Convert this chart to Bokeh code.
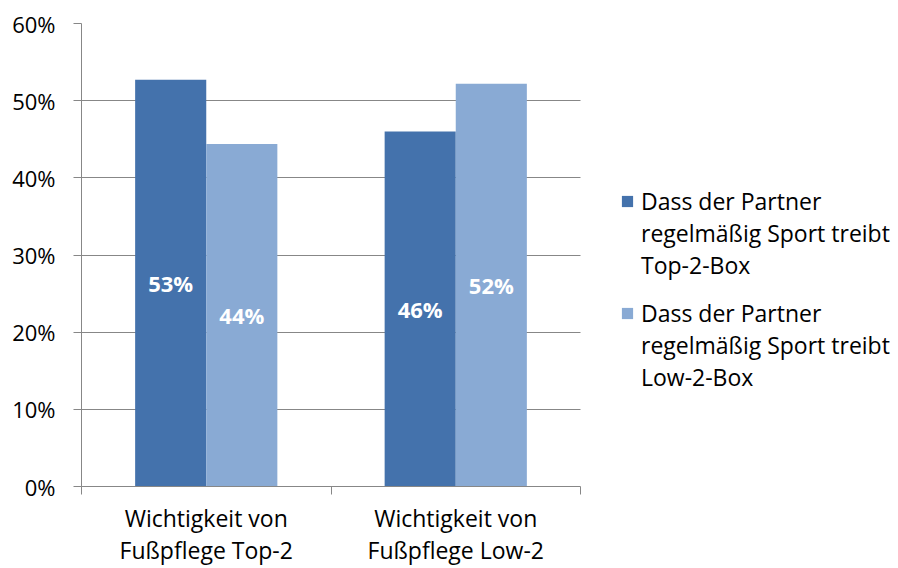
from bokeh.plotting import figure
from bokeh.models import (ColumnDataSource, FixedTicker, NumeralTickFormatter,
                          Legend, LegendItem, Range1d, Grid)
from bokeh.core.properties import value
from bokeh.embed import file_html
from bokeh.resources import INLINE

# ---- data ----
categories = ["Wichtigkeit von\nFußpflege Top-2", "Wichtigkeit von\nFußpflege Low-2"]
series_names = ["Dass der Partner\nregelmäßig Sport treibt\nTop-2-Box",
                "Dass der Partner\nregelmäßig Sport treibt\nLow-2-Box"]
top2_values = [0.527, 0.460]
low2_values = [0.444, 0.522]
y_ticks = [0.0, 0.1, 0.2, 0.3, 0.4, 0.5, 0.6]
colors = ["#4472AC", "#89AAD4"]

FONT = "Open Sans"
GREY = "#878787"
FS = "22px"
FS_TXT = "23px"

W, H = 898, 568
LEFT, TOP, BOTTOM = 81, 23, 80
PLOT_W = 499                      # pixel width of the category area
frame_w = W - LEFT

n = len(categories)
centers = [i + 0.5 for i in range(n)]
bar_w = 0.285
offsets = [-bar_w / 2, bar_w / 2]

p = figure(width=W, height=H, output_backend="svg", toolbar_location=None,
           x_range=Range1d(0, n * frame_w / PLOT_W), y_range=Range1d(0, 0.6),
           min_border_left=LEFT, min_border_right=0, min_border_top=TOP,
           min_border_bottom=BOTTOM)
p.outline_line_color = None
p.background_fill_color = "white"

renderers = []
for vals, off, col in zip([top2_values, low2_values], offsets, colors):
    src = ColumnDataSource(dict(
        x=[c + off for c in centers],
        top=vals,
        mid=[v / 2 for v in vals],
        lab=[f"{round(v * 100)}%" for v in vals],
    ))
    r = p.vbar(x="x", top="top", bottom=0, width=bar_w, source=src,
               fill_color=col, line_color=None)
    renderers.append(r)
    p.text(x="x", y="mid", text="lab", source=src, text_color="white",
           text_font=value(FONT), text_font_size=FS, text_font_style="bold",
           text_align="center", text_baseline="middle")

# invisible renderer for the continuation lines of the legend labels
blank = p.vbar(x=[], top=[], width=bar_w, fill_alpha=0, line_alpha=0)

# x axis
xa = p.xaxis[0]
xa.bounds = (0, n)
xa.ticker = FixedTicker(ticks=centers, minor_ticks=list(range(n + 1)))
xa.major_label_overrides = {c: lab for c, lab in zip(centers, categories)}
xa.major_tick_line_color = None
xa.major_tick_out = 8
xa.major_tick_in = 0
xa.minor_tick_out = 8
xa.minor_tick_in = 0
xa.minor_tick_line_color = GREY
xa.axis_line_color = GREY
xa.major_label_text_font = FONT
xa.major_label_text_font_size = FS_TXT
xa.major_label_text_color = "black"
xa.major_label_text_line_height = 1.0
xa.major_label_standoff = 7

# y axis
ya = p.yaxis[0]
ya.ticker = FixedTicker(ticks=y_ticks)
ya.formatter = NumeralTickFormatter(format="0%")
ya.major_tick_out = 8
ya.major_tick_in = 0
ya.minor_tick_line_color = None
ya.major_tick_line_color = GREY
ya.axis_line_color = GREY
ya.major_label_text_font = FONT
ya.major_label_text_font_size = FS
ya.major_label_text_color = "black"
ya.major_label_standoff = 18

p.xgrid.visible = False
yg = p.ygrid[0]
yg.ticker = FixedTicker(ticks=y_ticks)
yg.grid_line_color = GREY
if "cross_bounds" in Grid.properties():
    yg.cross_bounds = (0, n)
else:
    yg.visible = False
    p.segment(x0=[0] * len(y_ticks), x1=[n] * len(y_ticks), y0=y_ticks, y1=y_ticks,
              line_color=GREY, level="underlay")

legend_y = [205, 93]
for nm, r, ly in zip(series_names, renderers, legend_y):
    lines = nm.split("\n")
    items = [LegendItem(label=lines[0], renderers=[r])]
    items += [LegendItem(label=ln, renderers=[blank]) for ln in lines[1:]]
    lg = Legend(items=items, location=(539, ly), glyph_width=14, glyph_height=14,
                label_standoff=7, label_height=32, spacing=0, padding=0, margin=0,
                border_line_color=None, background_fill_alpha=0,
                label_text_font=FONT, label_text_font_size=FS_TXT,
                label_text_color="black")
    p.add_layout(lg)

open("out.html", "w").write(file_html(p, INLINE))
